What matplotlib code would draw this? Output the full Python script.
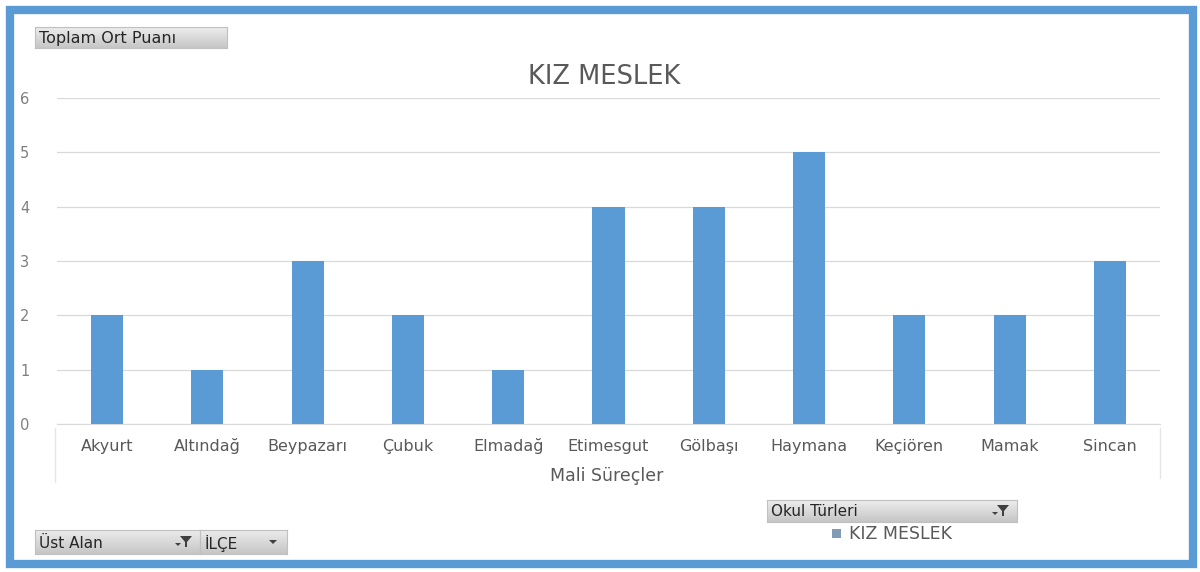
import matplotlib
matplotlib.use("Agg")
import matplotlib.pyplot as plt
from matplotlib.patches import Rectangle, Polygon
import numpy as np

plt.rcParams['font.family'] = ['DejaVu Sans']

categories = ["Akyurt", "Altındağ", "Beypazarı", "Çubuk", "Elmadağ", "Etimesgut",
              "Gölbaşı", "Haymana", "Keçiören", "Mamak", "Sincan"]
values = [2, 1, 3, 2, 1, 4, 4, 5, 2, 2, 3]
yticks = [0, 1, 2, 3, 4, 5, 6]
title = "KIZ MESLEK"
xlabel = "Mali Süreçler"
series_name = "KIZ MESLEK"

W, H = 1200, 572
fig = plt.figure(figsize=(12, 5.72), dpi=100)
fig.patch.set_facecolor('white')

def fx(px):
    return px / W

def fy(py):
    return 1 - py / H

BLUE = '#5B9BD5'
GRAY_TXT = '#595959'

ax = fig.add_axes([fx(57), fy(424), fx(1160) - fx(57), fy(98) - fy(424)])
x = np.arange(len(categories))
ax.bar(x, values, width=0.32, color=BLUE, zorder=3)
ax.set_xlim(-0.5, len(categories) - 0.5)
ax.set_ylim(0, 6)
ax.set_yticks(yticks)
ax.set_yticklabels([str(t) for t in yticks], color='#7f7f7f', fontsize=10.5)
ax.set_xticks(x)
ax.set_xticklabels(categories, color=GRAY_TXT, fontsize=11.5)
for lab in ax.get_xticklabels():
    lab.set_verticalalignment('baseline')
ax.tick_params(axis='both', length=0)
ax.tick_params(axis='y', pad=20)
ax.tick_params(axis='x', pad=19.5)
ax.grid(axis='y', color='#D9D9D9', linewidth=0.9, zorder=0)
for s in ['top', 'right', 'left']:
    ax.spines[s].set_visible(False)
ax.spines['bottom'].set_color('#D9D9D9')

fig.text(fx(607), fy(476), xlabel, ha='center', va='center', fontsize=12.5, color=GRAY_TXT)
fig.text(fx(604), fy(77), title, ha='center', va='center', fontsize=18.5, color=GRAY_TXT)

# faint multi-level axis lines
fig.add_artist(plt.Line2D([fx(55), fx(55)], [fy(428), fy(482)], color='#E6E6E6', lw=1))
fig.add_artist(plt.Line2D([fx(1160), fx(1160)], [fy(428), fy(478)], color='#E6E6E6', lw=1))

grad = np.linspace(0, 1, 32).reshape(-1, 1)
gcmap = matplotlib.colors.LinearSegmentedColormap.from_list('g', ['#EDEDED', '#C6C6C6'])

def button(x0, y0, x1, y1, label, icon=None, fontsize=11):
    bax = fig.add_axes([fx(x0), fy(y1), fx(x1) - fx(x0), fy(y0) - fy(y1)])
    bax.imshow(grad, aspect='auto', cmap=gcmap, extent=[0, 1, 1, 0])
    bax.set_xlim(0, 1)
    bax.set_ylim(1, 0)
    bax.set_xticks([])
    bax.set_yticks([])
    for s in bax.spines.values():
        s.set_color('#C0C0C0')
        s.set_linewidth(0.8)
    fig.text(fx(x0 + 4), fy((y0 + y1) / 2 + 1), label, ha='left', va='center',
             fontsize=fontsize, color='#262626')
    if icon == 'filter':
        cx = x1 - 14
        cy = (y0 + y1) / 2
        fig.add_artist(Polygon([[fx(cx - 6), fy(cy - 6)], [fx(cx + 6), fy(cy - 6)],
                                [fx(cx + 1), fy(cy)], [fx(cx + 1), fy(cy + 5)],
                                [fx(cx - 1), fy(cy + 5)], [fx(cx - 1), fy(cy)]],
                               closed=True, transform=fig.transFigure,
                               facecolor='#404040', edgecolor='none'))
        fig.add_artist(Polygon([[fx(cx - 11), fy(cy + 1)], [fx(cx - 5), fy(cy + 1)],
                                [fx(cx - 8), fy(cy + 4)]], closed=True,
                               transform=fig.transFigure, facecolor='#404040',
                               edgecolor='none'))
    elif icon == 'drop':
        cx = x1 - 14
        cy = (y0 + y1) / 2
        fig.add_artist(Polygon([[fx(cx - 4), fy(cy - 2)], [fx(cx + 4), fy(cy - 2)],
                                [fx(cx), fy(cy + 2)]], closed=True,
                               transform=fig.transFigure, facecolor='#404040',
                               edgecolor='none'))

button(35, 27, 227, 48, "Toplam Ort Puanı", fontsize=11.5)
button(35, 530, 200, 554, "Üst Alan")
button(200, 530, 287, 554, "İLÇE", icon='drop')
button(767, 500, 1017, 522, "Okul Türleri", icon='filter')
# filter icon on Üst Alan
fig.add_artist(Polygon([[fx(180), fy(536)], [fx(192), fy(536)], [fx(187), fy(542)],
                        [fx(187), fy(547)], [fx(185), fy(547)], [fx(185), fy(542)]],
                       closed=True, transform=fig.transFigure, facecolor='#404040',
                       edgecolor='none'))
fig.add_artist(Polygon([[fx(175), fy(543)], [fx(181), fy(543)], [fx(178), fy(546)]],
                       closed=True, transform=fig.transFigure, facecolor='#404040',
                       edgecolor='none'))

# legend
fig.add_artist(Rectangle((fx(832), fy(538)), fx(841) - fx(832), fy(529) - fy(538),
                         transform=fig.transFigure, facecolor='#7F9BB5', edgecolor='none'))
fig.text(fx(849), fy(534), series_name, ha='left', va='center', fontsize=12.5, color=GRAY_TXT)

# outer blue frame
fig.add_artist(Rectangle((fx(9.5), fy(563.5)), fx(1192.5) - fx(9.5), fy(9.5) - fy(563.5),
                         transform=fig.transFigure, facecolor='none', edgecolor=BLUE,
                         linewidth=6))

fig.savefig("out.png", dpi=100, facecolor='white')
